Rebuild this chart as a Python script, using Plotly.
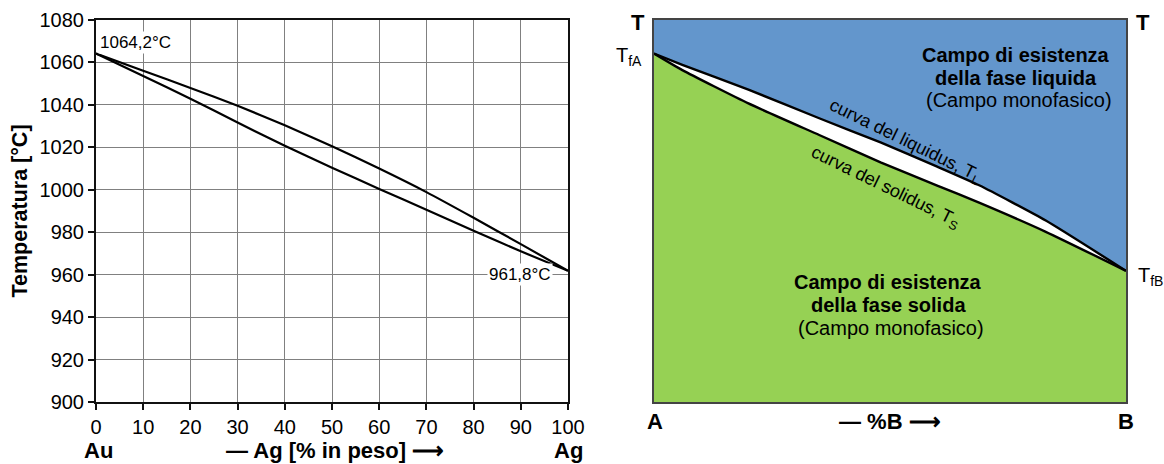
import plotly.graph_objects as go

# ---------------- data ----------------
ag_pct = [0, 10, 20, 30, 40, 50, 60, 70, 80, 90, 100]
liquidus = [1064.2, 1056.1, 1048.0, 1039.6, 1030.4, 1020.5, 1010.0, 998.9, 986.8, 974.4, 961.8]
solidus = [1064.2, 1053.6, 1042.9, 1031.7, 1020.7, 1010.4, 1000.4, 990.6, 980.7, 971.0, 961.8]
x_ticks = list(range(0, 101, 10))
y_ticks = list(range(900, 1081, 20))

# schematic diagram (right)
pct_b = [0, 6, 20, 35, 48, 60, 69, 83, 100]
schem_liq = [1064.2, 1058.9, 1047.2, 1033.7, 1022.3, 1010.9, 1002.0, 985.5, 961.8]
schem_sol = [1064.2, 1056.4, 1040.7, 1025.8, 1012.9, 1002.0, 993.8, 980.2, 961.8]

T_MIN, T_MAX = 900, 1080
BLUE = "rgb(99,150,204)"
GREEN = "rgb(150,209,84)"
FONT = "Liberation Sans, Arial, sans-serif"

W, H = 1164, 464
def px(x):
    return x / W
def py(y):
    return (H - y) / H

fig = go.Figure()
SPL = dict(shape="spline", smoothing=0.5)

# ---- left chart ----
fig.add_trace(go.Scatter(x=ag_pct, y=liquidus, mode="lines",
                         line=dict(color="black", width=2.2, **SPL), xaxis="x", yaxis="y",
                         hoverinfo="skip", showlegend=False))
fig.add_trace(go.Scatter(x=ag_pct, y=solidus, mode="lines",
                         line=dict(color="black", width=2.2, **SPL), xaxis="x", yaxis="y",
                         hoverinfo="skip", showlegend=False))

# ---- right chart: fills ----
fig.add_trace(go.Scatter(x=pct_b, y=[T_MAX] * len(pct_b), mode="lines",
                         line=dict(width=0), xaxis="x2", yaxis="y2",
                         hoverinfo="skip", showlegend=False))
fig.add_trace(go.Scatter(x=pct_b, y=schem_liq, mode="lines", fill="tonexty",
                         fillcolor=BLUE, line=dict(width=0, **SPL),
                         xaxis="x2", yaxis="y2", hoverinfo="skip", showlegend=False))
fig.add_trace(go.Scatter(x=pct_b, y=schem_sol, mode="lines", fill="tozeroy",
                         fillcolor=GREEN, line=dict(width=0, **SPL),
                         xaxis="x2", yaxis="y2", hoverinfo="skip", showlegend=False))
fig.add_trace(go.Scatter(x=pct_b, y=schem_liq, mode="lines",
                         line=dict(color="black", width=2.4, **SPL), xaxis="x2", yaxis="y2",
                         hoverinfo="skip", showlegend=False))
fig.add_trace(go.Scatter(x=pct_b, y=schem_sol, mode="lines",
                         line=dict(color="black", width=2.4, **SPL), xaxis="x2", yaxis="y2",
                         hoverinfo="skip", showlegend=False))

ydom = [py(402), py(20)]
fig.update_layout(
    width=W, height=H,
    margin=dict(l=0, r=0, t=0, b=0),
    paper_bgcolor="white", plot_bgcolor="white",
    font=dict(family=FONT, color="black"),
    xaxis=dict(domain=[px(96), px(568)], range=[0, 100], tickvals=x_ticks,
               showgrid=True, gridcolor="#808080", gridwidth=1,
               showline=True, linecolor="#111", linewidth=2, mirror=True,
               ticks="outside", ticklen=6, tickcolor="#111", tickwidth=1.5,
               tickfont=dict(size=20, family=FONT), zeroline=False, fixedrange=True,
               automargin=False),
    yaxis=dict(domain=ydom, range=[T_MIN, T_MAX], tickvals=y_ticks,
               showgrid=True, gridcolor="#808080", gridwidth=1,
               showline=True, linecolor="#111", linewidth=2, mirror=True,
               ticks="outside", ticklen=6, tickcolor="#111", tickwidth=1.5,
               tickfont=dict(size=20, family=FONT), zeroline=False, fixedrange=True,
               automargin=False,
               title=dict(text="<b>Temperatura [°C]</b>", font=dict(size=21.5, family=FONT),
                          standoff=6)),
    xaxis2=dict(domain=[px(654), px(1126)], range=[0, 100], showgrid=False,
                showticklabels=False, ticks="", showline=True, linecolor="#444",
                linewidth=1.5, mirror=True, zeroline=False, fixedrange=True,
                automargin=False),
    yaxis2=dict(domain=ydom, range=[T_MIN, T_MAX], showgrid=False, anchor="x2",
                showticklabels=False, ticks="", showline=True, linecolor="#444",
                linewidth=1.5, mirror=True, zeroline=False, fixedrange=True,
                automargin=False),
)

ann = []
def paper_text(text, x, y, size=22, xanchor="center", yanchor="middle", **kw):
    ann.append(dict(text=text, x=px(x), y=py(y), xref="paper", yref="paper",
                    xanchor=xanchor, yanchor=yanchor, showarrow=False,
                    font=dict(size=size, family=FONT, color="black"), **kw))

# left chart labels
ann.append(dict(text="1064,2°C", x=0, y=1069.2, xref="x", yref="y", xanchor="left",
                yanchor="middle", xshift=2, showarrow=False, bgcolor="white", borderpad=1,
                font=dict(size=17, family=FONT, color="black")))
ann.append(dict(text="961,8°C", x=100, y=960, xref="x", yref="y", xanchor="right",
                yanchor="middle", xshift=-15, showarrow=False, bgcolor="white", borderpad=1,
                font=dict(size=17, family=FONT, color="black")))
paper_text("<b>Au</b>", 98, 450)
paper_text("<b>— Ag [% in peso] ⟶</b>", 335, 450)
paper_text("<b>Ag</b>", 568, 450)

# right chart labels
paper_text("<b>T</b>", 638, 22)
paper_text("<b>T</b>", 1143, 22)
paper_text("T<sub>fA</sub>", 644, 56, size=20, xanchor="right")
paper_text("T<sub>fB</sub>", 1136, 276, size=20, xanchor="left")
paper_text("<b>A</b>", 655, 421)
paper_text("<b>B</b>", 1126, 421)
paper_text("<b>— %B ⟶</b>", 890, 421)

paper_text("<b>Campo di esistenza</b>", 1016, 55, size=20)
paper_text("<b>della fase liquida</b>", 1016, 77.5, size=20)
paper_text("(Campo monofasico)", 1019, 100, size=20)
paper_text("<b>Campo di esistenza</b>", 888, 282, size=20)
paper_text("<b>della fase solida</b>", 888, 305, size=20)
paper_text("(Campo monofasico)", 891, 328, size=20)

paper_text("curva del liquidus, T<sub>L</sub>", 905, 141, size=18, textangle=26)
paper_text("curva del solidus, T<sub>S</sub>", 885, 187, size=18, textangle=26)

fig.update_layout(annotations=ann)
fig.write_html("out.html", config={"displayModeBar": False},
               post_script="document.body.style.margin='0px';")
